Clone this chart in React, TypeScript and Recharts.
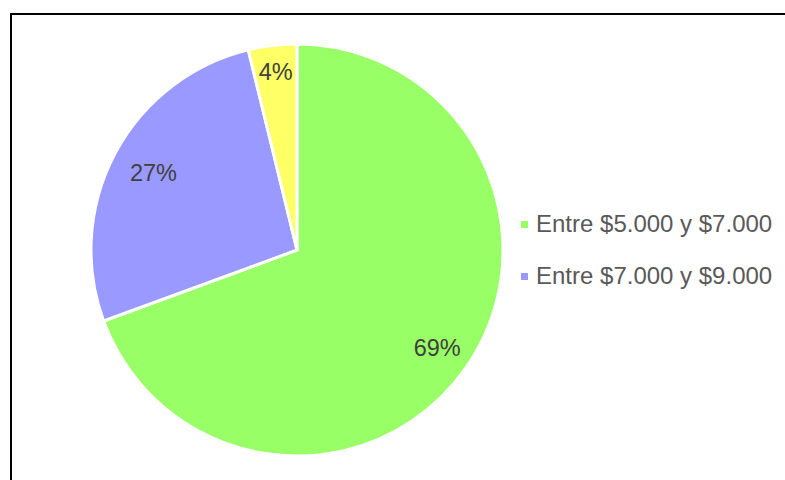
import React from 'react';
import { PieChart, Pie, Cell, Legend } from 'recharts';

const categories = ['Entre $5.000 y $7.000', 'Entre $7.000 y $9.000', 'Más de $9.000'];
const shares = [69.4, 26.8, 3.8];
const colors = ['#99FF66', '#9999FF', '#FFFF66'];
const legendCount = 2;

const data = categories.map((name, i) => ({ name, value: shares[i] }));

const RAD = Math.PI / 180;
const FONT = "'Liberation Sans', Arial, sans-serif";

const renderLabel = (props: any) => {
  const { cx, cy, midAngle, outerRadius, percent } = props;
  const k = percent < 0.1 ? 0.87 : percent > 0.5 ? 0.83 : 0.79;
  const r = outerRadius * k;
  const x = cx + r * Math.cos(-midAngle * RAD);
  const y = cy + r * Math.sin(-midAngle * RAD);
  return (
    <text
      x={x}
      y={y}
      fill="#404040"
      fontSize={23.5}
      fontFamily={FONT}
      textAnchor="middle"
      dominantBaseline="central"
    >
      {`${Math.round(percent * 100)}%`}
    </text>
  );
};

const renderLegend = () => (
  <div style={{ fontFamily: FONT, fontSize: 24, color: '#595959', whiteSpace: 'nowrap' }}>
    {categories.slice(0, legendCount).map((name, i) => (
      <div key={name} style={{ display: 'flex', alignItems: 'center', height: 52 }}>
        <span style={{ display: 'inline-block', width: 7, height: 7, background: colors[i], marginRight: 8 }} />
        <span>{name}</span>
      </div>
    ))}
  </div>
);

const App: React.FC = () => {
  return (
    <div style={{ position: 'absolute', left: 0, top: 0, width: 785, height: 480, overflow: 'hidden', background: '#fff' }}>
      <div
        style={{
          position: 'absolute',
          left: 10,
          top: 13,
          width: 800,
          height: 500,
          border: '2px solid #000',
          boxSizing: 'border-box',
        }}
      />
      <PieChart
        width={785}
        height={480}
        margin={{ top: 0, right: 0, bottom: 0, left: 0 }}
        style={{ position: 'absolute', left: 0, top: 0 }}
      >
        <Pie
          data={data}
          dataKey="value"
          nameKey="name"
          cx={297}
          cy={250}
          outerRadius={206}
          startAngle={90}
          endAngle={-270}
          stroke="#fff"
          strokeWidth={3}
          label={renderLabel}
          labelLine={false}
          isAnimationActive={false}
        >
          {data.map((entry, index) => (
            <Cell key={`cell-${index}`} fill={colors[index]} />
          ))}
        </Pie>
        <Legend
          content={renderLegend}
          layout="vertical"
          wrapperStyle={{ position: 'absolute', left: 521, top: 198, width: 264 }}
        />
      </PieChart>
    </div>
  );
};

export default App;
